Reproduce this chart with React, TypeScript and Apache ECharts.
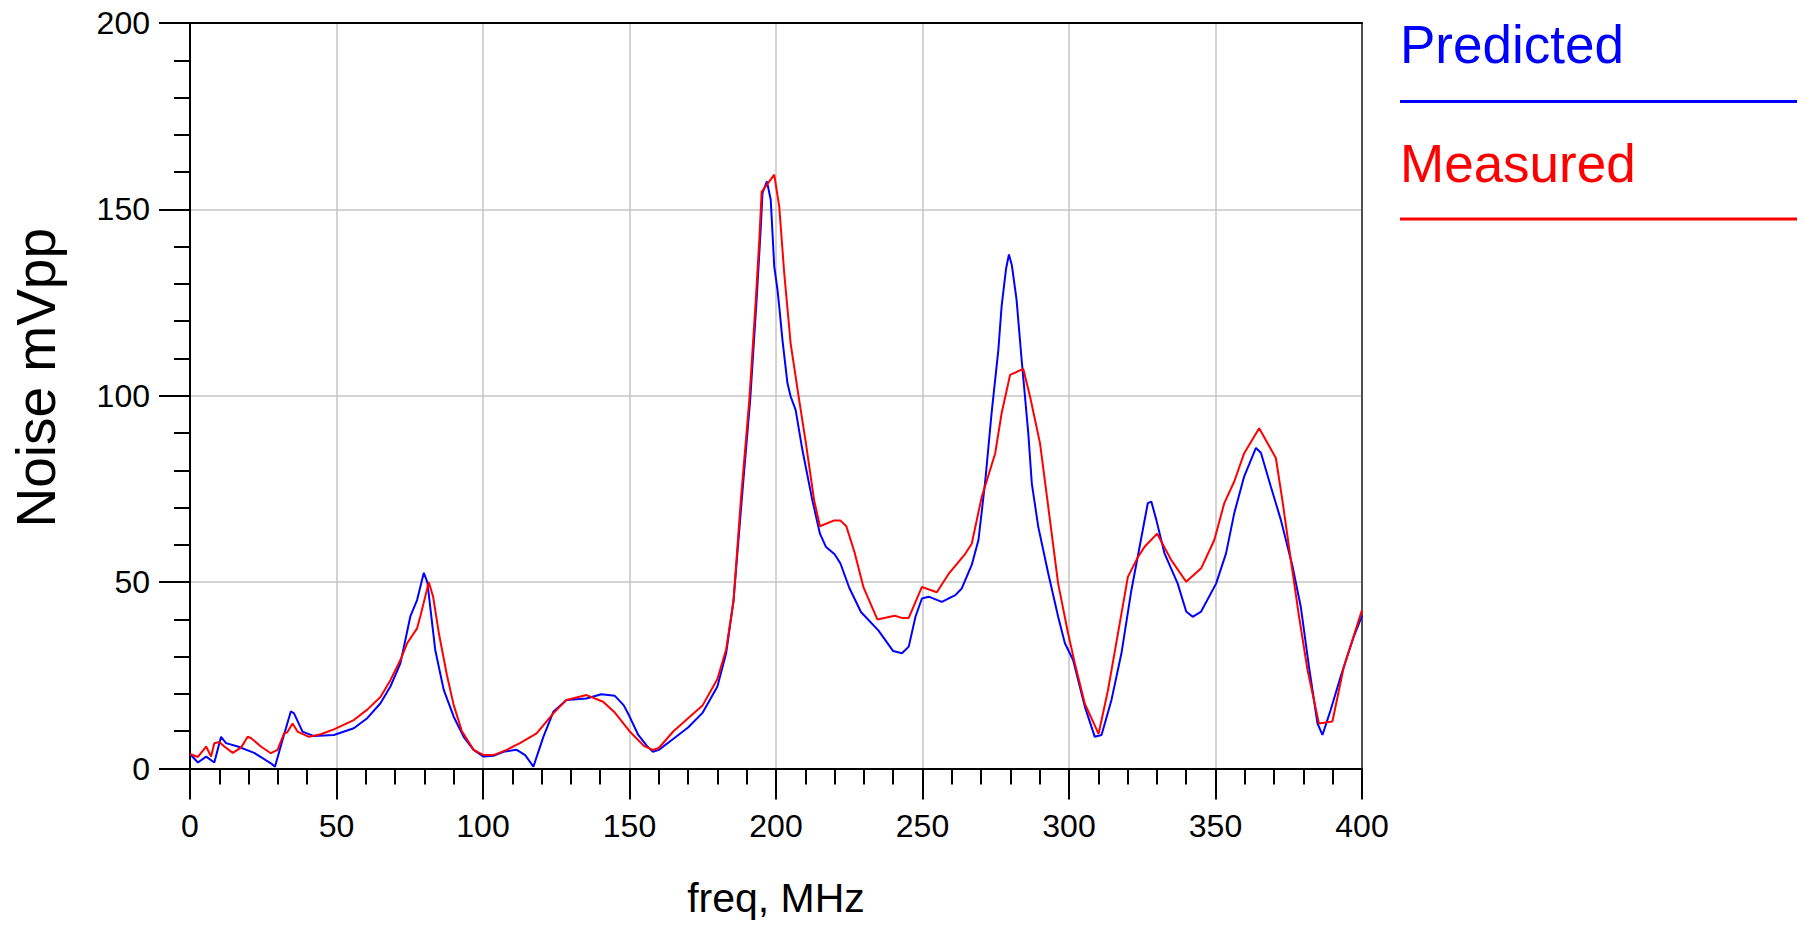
import React, { useEffect, useRef } from "react";
import * as echarts from "echarts";

// Predicted (blue) curve: frequency in MHz and noise in mVpp
const predictedFreq = [
  0, 2.7, 5.5, 8.3, 10.6, 12.3, 16.3, 21.9, 27.6, 29, 31.6, 34.4, 35.5, 38.4, 42.3, 49.1,
  55.9, 60.5, 65, 68.4, 71.8, 75.2, 77.5, 79.8, 81, 83.7, 86.6, 90, 93.4, 96.8, 100.2, 103.6,
  107, 111.5, 114.4, 117.2, 120.6, 124, 128.5, 135.3, 140.4, 145, 148, 150, 153, 156, 158,
  160, 165, 170, 175, 180, 183, 185.5, 188.3, 191.2, 193.4, 194.8, 195.4, 196.9, 198.2,
  198.8, 199.4, 200.5, 201.1, 202.2, 203.9, 205, 206.7, 209, 212.4, 215, 217, 220, 222, 225,
  229, 235, 240, 243, 245.3, 247.6, 249.8, 252.1, 256.6, 261.2, 263.4, 266.8, 269.1, 271.4,
  273.6, 275.9, 277, 278.5, 279.5, 280.5, 282.1, 283.8, 286.1, 287.3, 289.5, 292.9, 296.3,
  298.6, 301.4, 305.4, 308.8, 311.1, 314.5, 317.9, 321.3, 324.1, 326.9, 328.1, 329.8, 332.6,
  337.1, 340, 342.2, 345.1, 350.2, 353.6, 356.4, 359.8, 363.8, 365.5, 368.9, 372.3, 376.3,
  379.1, 381.9, 384.8, 386.5, 389.3, 392.7, 397.2, 400,
];
const predictedValues = [
  3.9, 1.6, 3.2, 1.6, 8.5, 6.8, 5.9, 4.2, 1.4, 0.5, 7.7, 15.3, 14.8, 9.9, 8.7, 9,
  10.8, 13.5, 17.5, 22, 28.2, 40.8, 45.2, 52.5, 50, 31.8, 21.1, 13.9, 8.5, 5, 3.2, 3.4,
  4.5, 5, 3.6, 0.5, 8.5, 15.2, 18.4, 18.8, 19.9, 19.5, 17, 14, 9, 6, 4.5,
  5, 8, 11, 15, 22, 31, 45, 72, 99, 126, 145, 154.4, 157.5, 152.6,
  143.7, 134.7, 128.5, 124, 115, 103.4, 99.8, 96.2, 85.5, 72, 63, 59.5, 57.5, 55, 48.5,
  42, 37, 31.5, 30.9, 32.7, 40.7, 45.6, 46.1, 44.7, 46.5, 48.3, 54.6, 61.3, 77,
  95.5, 112.4, 124, 134, 137.9, 135, 125.8, 110, 90, 76.5, 64.9, 52.4, 40.7,
  33.6, 29.1, 16.6, 8.5, 9, 18.4, 30.9, 47.9, 59.5, 71.2, 71.6, 66.7, 57.7,
  49.6, 42.1, 40.7, 42.1, 49.6, 57.7, 68.5, 78.4, 86, 84.7, 75.6, 66.7, 54.2,
  43.4, 27.3, 12.1, 9, 15.7, 24.6, 35.4, 41,
];

// Measured (red) curve
const measuredFreq = [
  0, 2.7, 5.5, 7.2, 8.3, 10, 11.7, 14.6, 17.4, 19.7, 20.8, 24.2, 27.6, 29.9, 32.1, 33.2,
  35, 36.7, 40.6, 44.6, 49.1, 55.9, 60.5, 65, 68.4, 71.8, 74.1, 77.5, 78.6, 81.5, 83, 85,
  87.7, 90, 92.8, 96.8, 100.2, 103.6, 108.1, 112.6, 118.3, 124, 128.5, 135.3, 141, 145, 150,
  155, 158, 160, 165, 170, 175, 180, 183, 185.5, 188, 190.9, 193.1, 194.3, 195.1, 199.4,
  201.1, 202.8, 205, 207.9, 210.2, 213, 215, 219.7, 222, 224, 226.8, 229.9, 234.6, 240.5,
  243, 245.3, 249.8, 254.9, 258.9, 264.6, 266.8, 270.2, 274.8, 277, 279.9, 284.4, 286.7,
  290.1, 292.9, 296.3, 299.7, 302, 305.4, 310.1, 313.3, 316.7, 320.1, 323.5, 325.8, 330.1,
  334.9, 340, 345.1, 349.6, 353, 356.4, 359.8, 364.9, 370.6, 372.8, 375.7, 378.5, 381.4,
  385.3, 389.9, 393.8, 400,
];
const measuredValues = [
  3.9, 3.1, 5.9, 3.2, 6.8, 7.1, 5.9, 4.2, 5.6, 8.5, 8.2, 5.9, 4.1, 5, 9.4, 9.7,
  12.1, 9.9, 8.5, 9.2, 10.5, 13, 15.8, 19.2, 23.7, 29.1, 33.6, 37.6, 40.8, 50, 46, 36,
  25, 17, 10, 5, 3.6, 3.6, 5, 6.8, 9.4, 14.8, 18.4, 19.7, 17.9, 15, 10,
  6, 5, 5.5, 10, 13.5, 17, 24, 32, 45, 72, 98.9, 125.7, 141.8, 154.7, 159.3,
  150.8, 133, 114, 98.9, 87.3, 72, 65, 66.5, 66.5, 65, 58, 48.5, 40, 41,
  40.4, 40.4, 48.7, 47.3, 52.2, 57.6, 60.3, 72.8, 84.5, 95.3, 105.6, 107.2, 99.8,
  87.3, 70.3, 49.6, 36.2, 28.2, 17.4, 9.3, 21, 36.2, 51.4, 56.7, 59.5, 63,
  55.9, 50.1, 53.7, 61.3, 71.2, 77, 84.6, 91.3, 83.3, 72.1, 56, 40.8, 26.5,
  12.1, 12.6, 27.3, 42.5,
];

const seriesNames = ["Predicted", "Measured"];
const seriesColors = ["#0000ff", "#ff0000"];
const xTitle = "freq, MHz";
const yTitle = "Noise mVpp";

const FONT = "'Liberation Sans', Arial, sans-serif";

export default function App() {
  const ref = useRef<HTMLDivElement>(null);

  useEffect(() => {
    if (!ref.current) return;
    const chart = echarts.init(ref.current, undefined, { renderer: "svg" });

    const toPairs = (xs: number[], ys: number[]) => xs.map((x, i) => [x, ys[i]]);

    const option: any = {
      animation: false,
      backgroundColor: "#ffffff",
      grid: { left: 184.5, top: 23, right: 444, bottom: 159.5, containLabel: false },
      xAxis: [
        {
          type: "value",
          min: 0,
          max: 400,
          interval: 50,
          name: xTitle,
          nameLocation: "middle",
          nameGap: 109,
          nameTextStyle: { fontFamily: FONT, fontSize: 41, color: "#000" },
          axisLine: { show: true, onZero: false, lineStyle: { color: "#000", width: 2 } },
          axisTick: { show: true, inside: false, length: 31, lineStyle: { color: "#000", width: 2 } },
          minorTick: { show: true, splitNumber: 5, length: 16, lineStyle: { color: "#000", width: 2 } },
          axisLabel: { margin: 41, fontFamily: FONT, fontSize: 32, color: "#000" },
          splitLine: { show: true, lineStyle: { color: "#c4c4c4", width: 1.5 } },
        },
        {
          type: "value",
          position: "top",
          min: 0,
          max: 400,
          axisLine: { show: true, onZero: false, lineStyle: { color: "#000", width: 2 } },
          axisTick: { show: false },
          axisLabel: { show: false },
          splitLine: { show: false },
        },
      ],
      yAxis: [
        {
          type: "value",
          min: 0,
          max: 200,
          interval: 50,
          name: yTitle,
          nameLocation: "middle",
          nameGap: 127,
          nameTextStyle: { fontFamily: FONT, fontSize: 55, color: "#000", padding: [0, 0, 0, 36] },
          axisLine: { show: true, onZero: false, lineStyle: { color: "#000", width: 2 } },
          axisTick: { show: true, inside: false, length: 31, lineStyle: { color: "#000", width: 2 } },
          minorTick: { show: true, splitNumber: 5, length: 16, lineStyle: { color: "#000", width: 2 } },
          axisLabel: { margin: 40, fontFamily: FONT, fontSize: 32, color: "#000" },
          splitLine: { show: true, lineStyle: { color: "#c4c4c4", width: 1.5 } },
        },
        {
          type: "value",
          position: "right",
          min: 0,
          max: 200,
          axisLine: { show: true, onZero: false, lineStyle: { color: "#505050", width: 2 } },
          axisTick: { show: false },
          axisLabel: { show: false },
          splitLine: { show: false },
        },
      ],
      series: [
        {
          name: seriesNames[0],
          type: "line",
          xAxisIndex: 0,
          yAxisIndex: 0,
          data: toPairs(predictedFreq, predictedValues),
          showSymbol: false,
          symbol: "none",
          lineStyle: { color: seriesColors[0], width: 2 },
          itemStyle: { color: seriesColors[0] },
          z: 3,
        },
        {
          name: seriesNames[1],
          type: "line",
          xAxisIndex: 0,
          yAxisIndex: 0,
          data: toPairs(measuredFreq, measuredValues),
          showSymbol: false,
          symbol: "none",
          lineStyle: { color: seriesColors[1], width: 2 },
          itemStyle: { color: seriesColors[1] },
          z: 4,
        },
      ],
      graphic: [
        {
          type: "text",
          left: 1400,
          top: 18,
          style: { text: seriesNames[0], fill: seriesColors[0], font: `53px ${FONT}` },
        },
        {
          type: "line",
          shape: { x1: 1400, y1: 101.5, x2: 1797, y2: 101.5 },
          style: { stroke: seriesColors[0], lineWidth: 3 },
        },
        {
          type: "text",
          left: 1400,
          top: 137,
          style: { text: seriesNames[1], fill: seriesColors[1], font: `53px ${FONT}` },
        },
        {
          type: "line",
          shape: { x1: 1400, y1: 219, x2: 1797, y2: 219 },
          style: { stroke: seriesColors[1], lineWidth: 3 },
        },
      ],
    };

    chart.setOption(option);
    return () => chart.dispose();
  }, []);

  return (
    <div
      ref={ref}
      style={{ position: "fixed", left: 0, top: 0, width: 1806, height: 928, background: "#fff" }}
    />
  );
}
